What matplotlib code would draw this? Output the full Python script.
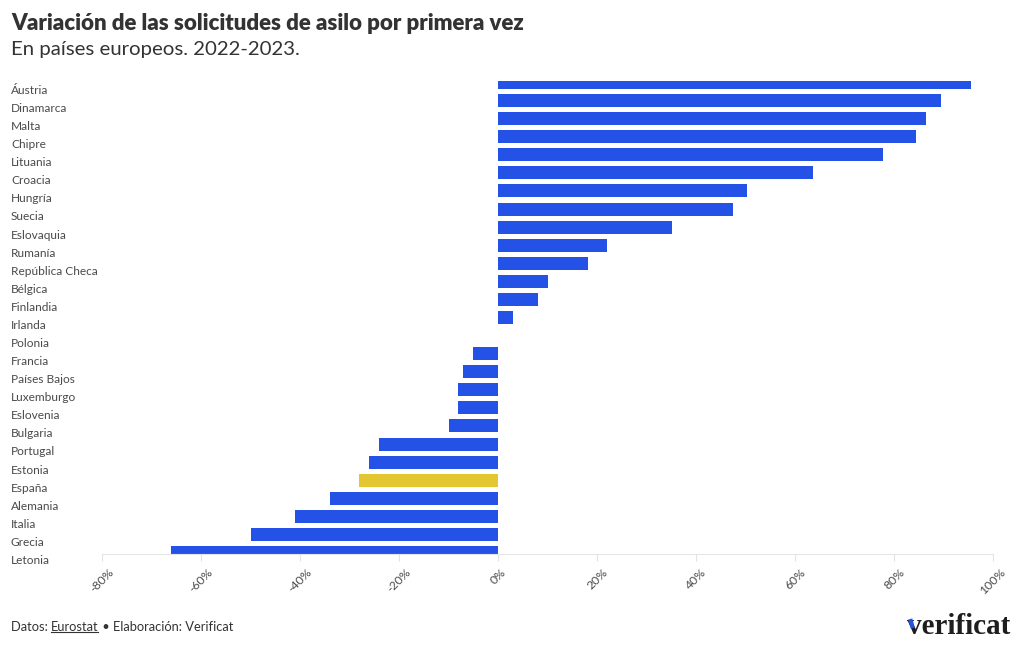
import matplotlib.pyplot as plt
import matplotlib.transforms as mtransforms
import numpy as np

plt.rcParams['font.family'] = ['Lato', 'DejaVu Sans']

# datos (% variacion 2022-2023)
paises = ['Áustria', 'Dinamarca', 'Malta', 'Chipre', 'Lituania', 'Croacia',
          'Hungría', 'Suecia', 'Eslovaquia', 'Rumanía', 'República Checa',
          'Bélgica', 'Finlandia', 'Irlanda', 'Polonia', 'Francia',
          'Países Bajos', 'Luxemburgo', 'Eslovenia', 'Bulgaria', 'Portugal',
          'Estonia', 'España', 'Alemania', 'Italia', 'Grecia', 'Letonia']
variacion = [95.5, 89.5, 86.5, 84.5, 77.7, 63.6,
             50.4, 47.4, 35.2, 22.0, 18.2,
             10.1, 8.1, 3.0, 0.0, -5.0,
             -7.0, -8.0, -8.0, -10.0, -24.0,
             -26.0, -28.0, -34.0, -41.0, -50.0, -66.0]
destacado = 'España'
ticks = [-80, -60, -40, -20, 0, 20, 40, 60, 80, 100]

azul = '#2452E6'
amarillo = '#E3C730'
gris = '#4a4a4a'

fig = plt.figure(figsize=(10.2, 6.5), dpi=100)
ax = fig.add_axes([102 / 1020, 1 - 554 / 650, 891 / 1020, 473 / 650])

y = np.arange(len(paises))
colores = [amarillo if p == destacado else azul for p in paises]
ax.barh(y, variacion, height=0.72, color=colores, zorder=2)

ax.set_xlim(-80, 100)
ax.set_ylim(len(paises) - 1 + 0.083, -0.083)
ax.set_xticks(ticks)
ax.set_xticklabels([f'{t}%' for t in ticks], rotation=45, ha='center',
                   fontsize=8.8, color=gris)
ax.tick_params(axis='x', length=5, color='#e3e3e3', pad=4)
ax.set_yticks([])
for s in ['top', 'right', 'left']:
    ax.spines[s].set_visible(False)
ax.spines['bottom'].set_color('#e6e6e6')

# etiquetas de paises (algo desplazadas respecto a las barras, como en el original)
trans = mtransforms.blended_transform_factory(fig.transFigure, ax.transData)
for i, p in enumerate(paises):
    ax.text(11 / 1020, i + 0.44, p, transform=trans, ha='left', va='center',
            fontsize=8.6, color=gris, clip_on=False)

fig.text(11 / 1020, 1 - 23 / 650, 'Variación de las solicitudes de asilo por primera vez',
         fontsize=16, fontweight='heavy', color='#333333', ha='left', va='center')
fig.text(11 / 1020, 1 - 50 / 650, 'En países europeos. 2022-2023.',
         fontsize=14.7, color='#333333', ha='left', va='center')

# pie
fs = 9.3
fig.text(11 / 1020, 1 - 627 / 650, 'Datos: ', fontsize=fs, color='#333333',
         ha='left', va='center')
r = fig.canvas.get_renderer()
t1 = fig.texts[-1]
x1 = t1.get_window_extent(r).x1
t2 = fig.text(x1 / 1020, 1 - 627 / 650, 'Eurostat', fontsize=fs, color='#333333',
              ha='left', va='center')
bb = t2.get_window_extent(r)
fig.add_artist(plt.Line2D([bb.x0 / 1020, (bb.x1 - 1) / 1020],
                          [(bb.y0 + 1) / 650, (bb.y0 + 1) / 650],
                          color='#333333', lw=0.8))
fig.text(bb.x1 / 1020, 1 - 627 / 650, ' • Elaboración: Verificat', fontsize=fs,
         color='#333333', ha='left', va='center')

logo = fig.text(1010 / 1020, 1 - 626 / 650, 'verificat', fontsize=21, fontweight='bold',
                family='Liberation Serif', color='#1e1e1e', ha='right', va='center')
lb = logo.get_window_extent(r)
# trazo azul en la "v" del logo
vx, vy = lb.x0 + 3.5, 1 - 619 / 650
fig.add_artist(plt.Line2D([vx / 1020, (vx + 2.5) / 1020],
                          [vy, vy - 9 / 650], color=azul, lw=3.0,
                          solid_capstyle='butt', zorder=10))

fig.savefig('out.png', dpi=100)
